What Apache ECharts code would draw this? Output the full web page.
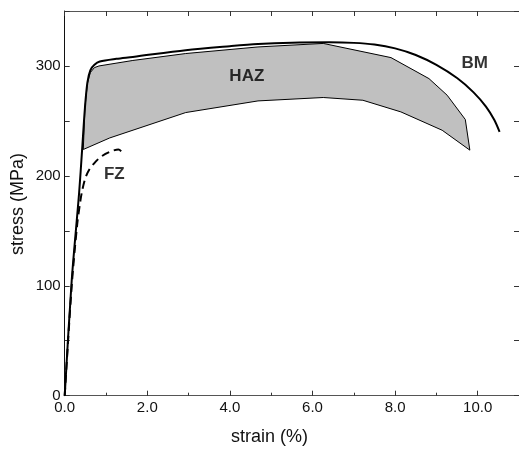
<!DOCTYPE html>
<html>
<head>
<meta charset="utf-8">
<script src="https://cdn.jsdelivr.net/npm/echarts@6/dist/echarts.min.js"></script>
<style>html,body{margin:0;padding:0;background:#fff;}#c{width:519px;height:449px;}</style>
</head>
<body>
<div id="c"></div>
<script>
// ---- data ----
var bmStrain = [0, 0.17, 0.35, 0.42, 0.49, 0.55, 0.62, 0.72, 0.85, 1.25, 1.65, 2.93, 4.0, 4.68, 5.5, 6.4, 7.0, 7.5, 8.0, 8.5, 9.0, 9.5, 9.9, 10.2, 10.4, 10.53];
var bmStress = [0, 105, 185, 223, 262, 285, 296, 301, 304, 306.5, 308.2, 314.3, 318, 320, 321.2, 321.5, 321, 319.5, 316, 310, 301, 289, 276, 263, 251, 240];
var fzStrain = [0, 0.17, 0.3, 0.37, 0.42, 0.5, 0.6, 0.75, 0.9, 1.1, 1.3, 1.45];
var fzStress = [0, 100, 155, 175, 186, 198, 206, 213, 218, 222, 224, 219];
var hazStrain = [0.45, 0.49, 0.55, 0.62, 0.72, 0.83, 1.65, 2.93, 4.68, 6.26, 7.9, 8.82, 9.26, 9.70, 9.81, 9.14, 8.14, 7.22, 6.26, 4.68, 2.93, 1.09, 0.45];
var hazStress = [224, 262, 284, 294, 298.5, 300, 305, 311.3, 317.3, 320.5, 307.6, 288.5, 273.4, 251.3, 223.4, 241.5, 258.2, 268.8, 271.3, 268.2, 257.6, 234.5, 224];
var labelNames = ['HAZ', 'BM', 'FZ'];
var labelStrain = [4.41, 9.93, 1.20];
var labelStress = [291, 302.2, 201.4];
var xTicks = [0, 2, 4, 6, 8, 10];
var yTicks = [0, 100, 200, 300];

function pairs(xs, ys) { return xs.map(function (x, i) { return [x, ys[i]]; }); }

var chart = echarts.init(document.getElementById('c'), null, {renderer: 'canvas'});
var FONT = 'Liberation Sans, Arial, sans-serif';
var grid = {left: 64.7, top: 11, width: 457.6, height: 384.7};

chart.setOption({
  animation: false,
  backgroundColor: '#fff',
  grid: grid,
  xAxis: [
    {type: 'value', min: 0, max: 11, interval: 2, position: 'bottom',
     axisLine: {show: true, onZero: false, lineStyle: {color: '#555', width: 1}},
     axisTick: {show: true, inside: true, length: 5, lineStyle: {color: '#333'}},
     axisLabel: {show: true, fontFamily: FONT, fontSize: 15, color: '#111', margin: 5,
       showMaxLabel: false,
       formatter: function (v) { return xTicks.indexOf(v) >= 0 ? v.toFixed(1) : ''; }},
     splitLine: {show: false}},
    {type: 'value', min: 0, max: 11, interval: 1, position: 'bottom',
     axisLine: {show: false, onZero: false}, axisTick: {show: true, inside: true, length: 3, lineStyle: {color: '#333'}},
     axisLabel: {show: false}, splitLine: {show: false}},
    {type: 'value', min: 0, max: 11, interval: 1, position: 'top',
     axisLine: {show: true, onZero: false, lineStyle: {color: '#555', width: 1}},
     axisTick: {show: true, inside: true, length: 5, lineStyle: {color: '#333'}},
     axisLabel: {show: false}, splitLine: {show: false}}
  ],
  yAxis: [
    {type: 'value', min: 0, max: 350, interval: 50, position: 'left',
     axisLine: {show: true, onZero: false, lineStyle: {color: '#111', width: 1}},
     axisTick: {show: true, inside: true, length: 5, lineStyle: {color: '#333'}},
     axisLabel: {show: true, fontFamily: FONT, fontSize: 15, color: '#111', margin: 4,
       formatter: function (v) { return yTicks.indexOf(v) >= 0 ? String(v) : ''; }},
     splitLine: {show: false}},
    {type: 'value', min: 0, max: 350, interval: 50, position: 'right',
     axisLine: {show: true, onZero: false, lineStyle: {color: '#555', width: 1}},
     axisTick: {show: true, inside: true, length: 5, lineStyle: {color: '#333'}},
     axisLabel: {show: false}, splitLine: {show: false}}
  ],
  graphic: [
    {type: 'text', left: 270 - 39, top: 428, style: {text: 'strain (%)', font: '18px ' + FONT, fill: '#111'}},
    {type: 'text', x: 18, y: 204, rotation: Math.PI / 2,
     style: {text: 'stress (MPa)', font: '18px ' + FONT, fill: '#111', align: 'center', verticalAlign: 'middle'}}
  ],
  series: [
    {type: 'custom', xAxisIndex: 0, yAxisIndex: 0, data: [[0, 0]], silent: true, z: 1,
     renderItem: function (params, api) {
       var pts = hazStrain.map(function (x, i) { return api.coord([x, hazStress[i]]); });
       return {type: 'polygon', shape: {points: pts},
         style: {fill: '#c0c0c0', stroke: '#000', lineWidth: 1}};
     }},
    {type: 'line', name: 'FZ', data: pairs(fzStrain, fzStress), showSymbol: false, smooth: 0.3, z: 3,
     lineStyle: {color: '#000', width: 2, type: [8, 5]}},
    {type: 'line', name: 'BM', data: pairs(bmStrain, bmStress), showSymbol: false, smooth: 0.3, z: 4,
     lineStyle: {color: '#000', width: 2}},
    {type: 'scatter', data: labelNames.map(function (n, i) { return [labelStrain[i], labelStress[i], n]; }),
     symbolSize: 1, itemStyle: {color: 'rgba(0,0,0,0)'}, z: 5, silent: true,
     label: {show: true, position: 'inside', fontFamily: FONT, fontWeight: 'bold', fontSize: 17, color: '#000',
       formatter: function (p) { return p.value[2]; }}}
  ]
});
</script>
</body>
</html>
